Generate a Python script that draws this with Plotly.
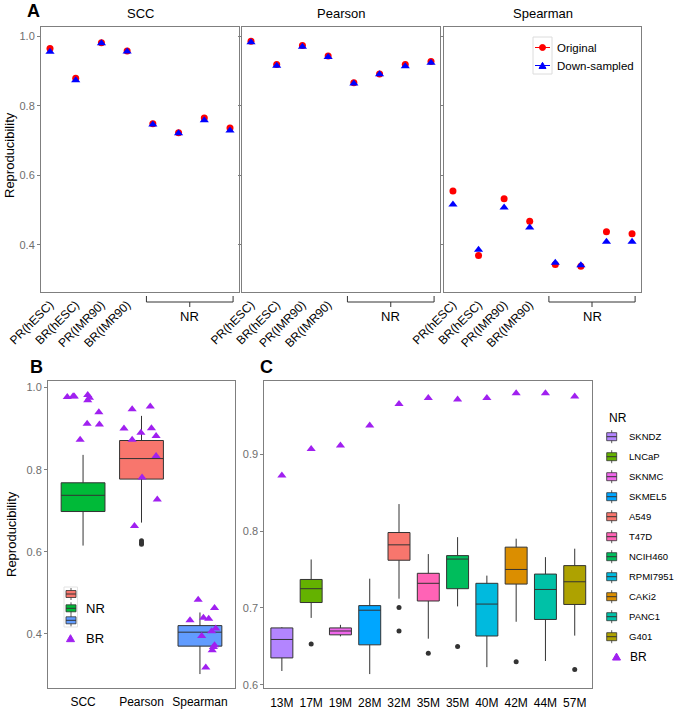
import plotly.graph_objects as go

W, H = 675, 709
def fx(p):
    return p / W
def fy(p):
    return 1 - p / H

FONT = "Liberation Sans, Arial, sans-serif"
TICK_GRAY = "#6e6e6e"
FRAME = "#7f7f7f"
DARK = "#333333"
BR_COLOR = "#A020F0"

# ---------------- Panel A data ----------------
a_categories = ["PR(hESC)", "BR(hESC)", "PR(IMR90)", "BR(IMR90)", "NR1", "NR2", "NR3", "NR4"]
a_tick_labels = ["PR(hESC)", "BR(hESC)", "PR(IMR90)", "BR(IMR90)"]
a_methods = ["SCC", "Pearson", "Spearman"]
scc_original = [0.964, 0.879, 0.981, 0.957, 0.748, 0.722, 0.765, 0.736]
scc_down = [0.955, 0.873, 0.979, 0.956, 0.746, 0.721, 0.758, 0.729]
pearson_original = [0.985, 0.918, 0.973, 0.943, 0.866, 0.891, 0.918, 0.927]
pearson_down = [0.982, 0.915, 0.969, 0.940, 0.864, 0.890, 0.913, 0.923]
spearman_original = [0.555, 0.370, 0.533, 0.468, 0.344, 0.339, 0.438, 0.432]
spearman_down = [0.516, 0.386, 0.508, 0.450, 0.349, 0.342, 0.409, 0.409]
a_yticks = [0.4, 0.6, 0.8, 1.0]

# ---------------- Panel B data ----------------
b_methods = ["SCC", "Pearson", "Spearman"]
b_colors = ["#00BA38", "#F8766D", "#619CFF"]
b_q1 = [0.698, 0.777, 0.370]
b_median = [0.7375, 0.827, 0.404]
b_q3 = [0.768, 0.871, 0.420]
b_lower = [0.615, 0.671, 0.302]
b_upper = [0.836, 0.931, 0.452]
b_outliers = [[], [0.627, 0.622, 0.618], []]
br_scc = [0.977, 0.979, 0.978, 0.982, 0.975, 0.969, 0.940, 0.912, 0.910, 0.873]
br_scc_jitter = [-0.27, -0.17, -0.15, 0.08, 0.11, 0.08, 0.27, 0.07, 0.28, -0.05]
br_pearson = [0.947, 0.954, 0.900, 0.890, 0.901, 0.873, 0.882, 0.833, 0.781, 0.727, 0.663]
br_pearson_jitter = [-0.16, 0.15, -0.30, -0.01, 0.17, -0.16, 0.25, 0.25, 0.01, 0.27, -0.12]
br_spearman = [0.483, 0.433, 0.463, 0.439, 0.437, 0.413, 0.395, 0.406, 0.372, 0.368, 0.360, 0.318]
br_spearman_jitter = [-0.03, -0.17, 0.25, 0.06, 0.15, 0.27, 0.03, 0.20, 0.25, 0.23, 0.21, 0.10]
b_yticks = [0.4, 0.6, 0.8, 1.0]

# ---------------- Panel C data ----------------
c_ages = ["13M", "17M", "19M", "28M", "32M", "35M", "35M", "40M", "42M", "44M", "57M"]
c_lines = ["SKNDZ", "LNCaP", "SKNMC", "SKMEL5", "A549", "T47D", "NCIH460", "RPMI7951", "CAKi2", "PANC1", "G401"]
c_colors = ["#B385FF", "#64B200", "#EF67EB", "#00A6FF", "#F8766D", "#FF63B6", "#00BD5C", "#00BADE", "#DB8E00", "#00C1A7", "#AEA200"]
c_q1 = [0.635, 0.707, 0.665, 0.652, 0.762, 0.709, 0.725, 0.6635, 0.731, 0.685, 0.7045]
c_median = [0.659, 0.725, 0.670, 0.697, 0.782, 0.732, 0.7635, 0.705, 0.750, 0.724, 0.734]
c_q3 = [0.674, 0.737, 0.674, 0.703, 0.798, 0.745, 0.768, 0.732, 0.779, 0.744, 0.755]
c_lower = [0.618, 0.687, 0.663, 0.614, 0.712, 0.660, 0.702, 0.623, 0.682, 0.631, 0.664]
c_upper = [0.675, 0.763, 0.678, 0.738, 0.835, 0.770, 0.792, 0.742, 0.790, 0.766, 0.777]
c_outliers = [[], [0.653], [], [], [0.7005, 0.670], [0.641], [0.650], [], [0.630], [], [0.620]]
c_br = [0.872, 0.9065, 0.911, 0.937, 0.965, 0.973, 0.971, 0.973, 0.979, 0.979, 0.975]
c_yticks = [0.6, 0.7, 0.8, 0.9]

fig = go.Figure()

# ---------------- Panel A traces ----------------
a_orig = [scc_original, pearson_original, spearman_original]
a_down = [scc_down, pearson_down, spearman_down]
a_idx = list(range(len(a_categories)))
for k in range(3):
    xa = "x" if k == 0 else f"x{k + 1}"
    ya = "y" if k == 0 else f"y{k + 1}"
    fig.add_trace(go.Scatter(x=a_idx, y=a_orig[k], mode="markers", name="Original",
                             marker=dict(symbol="circle", size=7, color="#FF0000"),
                             xaxis=xa, yaxis=ya))
    fig.add_trace(go.Scatter(x=a_idx, y=a_down[k], mode="markers", name="Down-sampled",
                             marker=dict(symbol="triangle-up", size=8, color="#0000FF"),
                             xaxis=xa, yaxis=ya))

# ---------------- Panel B traces ----------------
for i, m in enumerate(b_methods):
    fig.add_trace(go.Box(x=[i], q1=[b_q1[i]], median=[b_median[i]], q3=[b_q3[i]],
                         lowerfence=[b_lower[i]], upperfence=[b_upper[i]],
                         width=0.75, whiskerwidth=0, fillcolor=b_colors[i],
                         line=dict(color=DARK, width=1), name=m,
                         xaxis="x4", yaxis="y4", boxpoints=False))
    if b_outliers[i]:
        fig.add_trace(go.Scatter(x=[i] * len(b_outliers[i]), y=b_outliers[i], mode="markers",
                                 marker=dict(color=DARK, size=5), xaxis="x4", yaxis="y4"))
br_sets = [(0, br_scc, br_scc_jitter), (1, br_pearson, br_pearson_jitter), (2, br_spearman, br_spearman_jitter)]
for i, vals, jit in br_sets:
    fig.add_trace(go.Scatter(x=[i + j for j in jit], y=vals, mode="markers", name="BR",
                             marker=dict(symbol="triangle-up", size=8, color=BR_COLOR),
                             xaxis="x4", yaxis="y4"))

# ---------------- Panel C traces ----------------
for i, name in enumerate(c_lines):
    fig.add_trace(go.Box(x=[i], q1=[c_q1[i]], median=[c_median[i]], q3=[c_q3[i]],
                         lowerfence=[c_lower[i]], upperfence=[c_upper[i]],
                         width=0.75, whiskerwidth=0, fillcolor=c_colors[i],
                         line=dict(color=DARK, width=1), name=name,
                         xaxis="x5", yaxis="y5", boxpoints=False))
for i, outs in enumerate(c_outliers):
    if outs:
        fig.add_trace(go.Scatter(x=[i] * len(outs), y=outs, mode="markers",
                                 marker=dict(color=DARK, size=5), xaxis="x5", yaxis="y5"))
fig.add_trace(go.Scatter(x=list(range(len(c_ages))), y=c_br, mode="markers", name="BR",
                         marker=dict(symbol="triangle-up", size=8, color=BR_COLOR),
                         xaxis="x5", yaxis="y5"))

# ---------------- Axes ----------------
frame = dict(showline=True, mirror=True, linecolor=FRAME, linewidth=1, showgrid=False,
             zeroline=False, automargin=False)
a_xr = [-0.35, 7.35]
a_yr = [0.265, 1.026]
a_xdom = [(41, 239), (242, 440), (444, 641)]
A_TOP, A_BOT = 27, 292
layout = dict(
    width=W, height=H, margin=dict(l=0, r=0, t=0, b=0, pad=0), autosize=False,
    plot_bgcolor="white", paper_bgcolor="white",
    font=dict(family=FONT, color="black"),
    boxmode="overlay", showlegend=False,
)
for k in range(3):
    xk = "xaxis" if k == 0 else f"xaxis{k + 1}"
    yk = "yaxis" if k == 0 else f"yaxis{k + 1}"
    yanchor = "y" if k == 0 else f"y{k + 1}"
    xanchor = "x" if k == 0 else f"x{k + 1}"
    layout[xk] = dict(domain=[fx(a_xdom[k][0]), fx(a_xdom[k][1])], range=a_xr, anchor=yanchor,
                      tickvals=a_idx[:4], ticktext=a_tick_labels, tickangle=-45, ticks="",
                      tickfont=dict(size=12, color="black"), **frame)
    layout[yk] = dict(domain=[fy(A_BOT), fy(A_TOP)], range=a_yr, anchor=xanchor,
                      tickvals=a_yticks, ticktext=[f"{v:.1f}" for v in a_yticks],
                      ticks="outside", ticklen=3, tickcolor=FRAME,
                      showticklabels=(k == 0), tickfont=dict(size=11, color=TICK_GRAY), **frame)

layout["xaxis4"] = dict(domain=[fx(48), fx(235)], range=[-0.6, 2.6], anchor="y4",
                        tickvals=[0, 1, 2], ticktext=b_methods, ticks="", ticklabelstandoff=3,
                        tickangle=0, tickfont=dict(size=12, color="black"), **frame)
layout["yaxis4"] = dict(domain=[fy(688), fy(381)], range=[0.268, 1.016], anchor="x4",
                        tickvals=b_yticks, ticktext=[f"{v:.1f}" for v in b_yticks],
                        ticks="outside", ticklen=3, tickcolor=FRAME,
                        tickfont=dict(size=11, color=TICK_GRAY), **frame)
layout["xaxis5"] = dict(domain=[fx(264.3), fx(592.3)], range=[-0.6, 10.6], anchor="y5",
                        tickvals=list(range(len(c_ages))), ticktext=c_ages, ticks="",
                        ticklabelstandoff=3, tickangle=0,
                        tickfont=dict(size=12, color="black"), **frame)
layout["yaxis5"] = dict(domain=[fy(688.3), fy(381)], range=[0.5955, 0.995], anchor="x5",
                        tickvals=c_yticks, ticktext=[f"{v:.1f}" for v in c_yticks],
                        ticks="outside", ticklen=3, tickcolor=FRAME,
                        tickfont=dict(size=11, color=TICK_GRAY), **frame)
fig.update_layout(**layout)

# ---------------- Annotations & decorations ----------------
XR, YR = "x domain", "y domain"
def dx(p):
    return (p - a_xdom[0][0]) / (a_xdom[0][1] - a_xdom[0][0])
def dy(p):
    return (A_BOT - p) / (A_BOT - A_TOP)

ann = []
shapes = []

def text(x, y, s, size=12, bold=False, angle=0, xanchor="center", color="black"):
    ann.append(dict(x=dx(x), y=dy(y), xref=XR, yref=YR, text=f"<b>{s}</b>" if bold else s,
                    showarrow=False, xanchor=xanchor, yanchor="middle", textangle=angle,
                    font=dict(size=size, color=color, family=FONT)))

def pline(x0, y0, x1, y1, color=DARK, width=1):
    shapes.append(dict(type="line", xref=XR, yref=YR, x0=dx(x0), x1=dx(x1),
                       y0=dy(y0), y1=dy(y1), line=dict(color=color, width=width)))

def prect(x0, y0, x1, y1, fill=None, color=DARK, width=0.8):
    d = dict(type="rect", xref=XR, yref=YR, x0=dx(x0), x1=dx(x1), y0=dy(y1), y1=dy(y0),
             line=dict(color=color, width=width))
    if fill:
        d["fillcolor"] = fill
    shapes.append(d)

def box_key(xc, yc, col, w=10, h=7, stub=6):
    pline(xc, yc - stub, xc, yc + stub, width=0.8)
    prect(xc - w / 2, yc - h / 2, xc + w / 2, yc + h / 2, fill=col)
    pline(xc - w / 2, yc, xc + w / 2, yc, width=1)

def tri_key(xc, yc, col, s=8):
    shapes.append(dict(type="path", xref=XR, yref=YR,
                       path=f"M {dx(xc - s / 2)},{dy(yc + s * 0.42)} L {dx(xc + s / 2)},{dy(yc + s * 0.42)} "
                            f"L {dx(xc)},{dy(yc - s * 0.45)} Z",
                       fillcolor=col, line=dict(color=col, width=1)))

# panel letters
text(33, 11, "A", size=18, bold=True)
text(36, 367, "B", size=18, bold=True)
text(266, 367, "C", size=18, bold=True)

# strip titles
for k, m in enumerate(a_methods):
    text((a_xdom[k][0] + a_xdom[k][1]) / 2, 13, m, size=13)

# y titles
text(9, 155, "Reproducibility", size=13, angle=-90)
text(11, 534, "Reproducibility", size=13, angle=-90)

# NR brackets under panel A
b0, b1 = 3.75, 7.12
def cat_px(k, v):
    x0, x1 = a_xdom[k]
    return x0 + (v - a_xr[0]) / (a_xr[1] - a_xr[0]) * (x1 - x0)
for k in range(3):
    l, r = cat_px(k, b0), cat_px(k, b1)
    mid = (l + r) / 2
    pline(l, 302, r, 302)
    pline(l, 296, l, 302)
    pline(r, 296, r, 302)
    pline(mid, 302, mid, 307)
    text(mid, 316, "NR", size=13)

# Panel A legend (drawn)
prect(533, 37, 552, 74, color="#dcdcdc", width=1)
pline(535, 47.5, 550, 47.5, color="#FF0000")
shapes.append(dict(type="circle", xref=XR, yref=YR, x0=dx(539.5), x1=dx(545.5), y0=dy(50.5), y1=dy(44.5),
                   fillcolor="#FF0000", line=dict(color="#FF0000", width=1)))
pline(535, 65.5, 550, 65.5, color="#0000FF")
tri_key(542.5, 65.5, "#0000FF", s=7)
text(555, 47.5, "Original", size=11.5, xanchor="left")
text(555, 65.5, "Down-sampled", size=11.5, xanchor="left")

# Panel B legend (drawn)
prect(64, 587, 77.5, 627, color="#e3e3e3", width=1)
for yc, col in [(594, b_colors[1]), (608.3, b_colors[0]), (620.3, b_colors[2])]:
    box_key(71, yc, col)
tri_key(70.5, 638.3, BR_COLOR)
text(84, 608.3, "NR", size=13, xanchor="left")
text(84, 638.3, "BR", size=13, xanchor="left")

# Panel C legend (drawn)
text(607, 418, "NR", size=12, xanchor="left")
for i, name in enumerate(c_lines):
    yc = 436.7 + 20 * i
    box_key(611.7, yc, c_colors[i], w=10, h=8, stub=6.5)
    text(627, yc, name, size=9.5, xanchor="left")
tri_key(616.5, 656.7, BR_COLOR)
text(628, 656.7, "BR", size=12, xanchor="left")

fig.update_layout(annotations=ann, shapes=shapes)
fig.write_html("out.html", config={"displayModeBar": False},
               post_script="document.body.style.margin='0';document.body.style.overflow='hidden';")
